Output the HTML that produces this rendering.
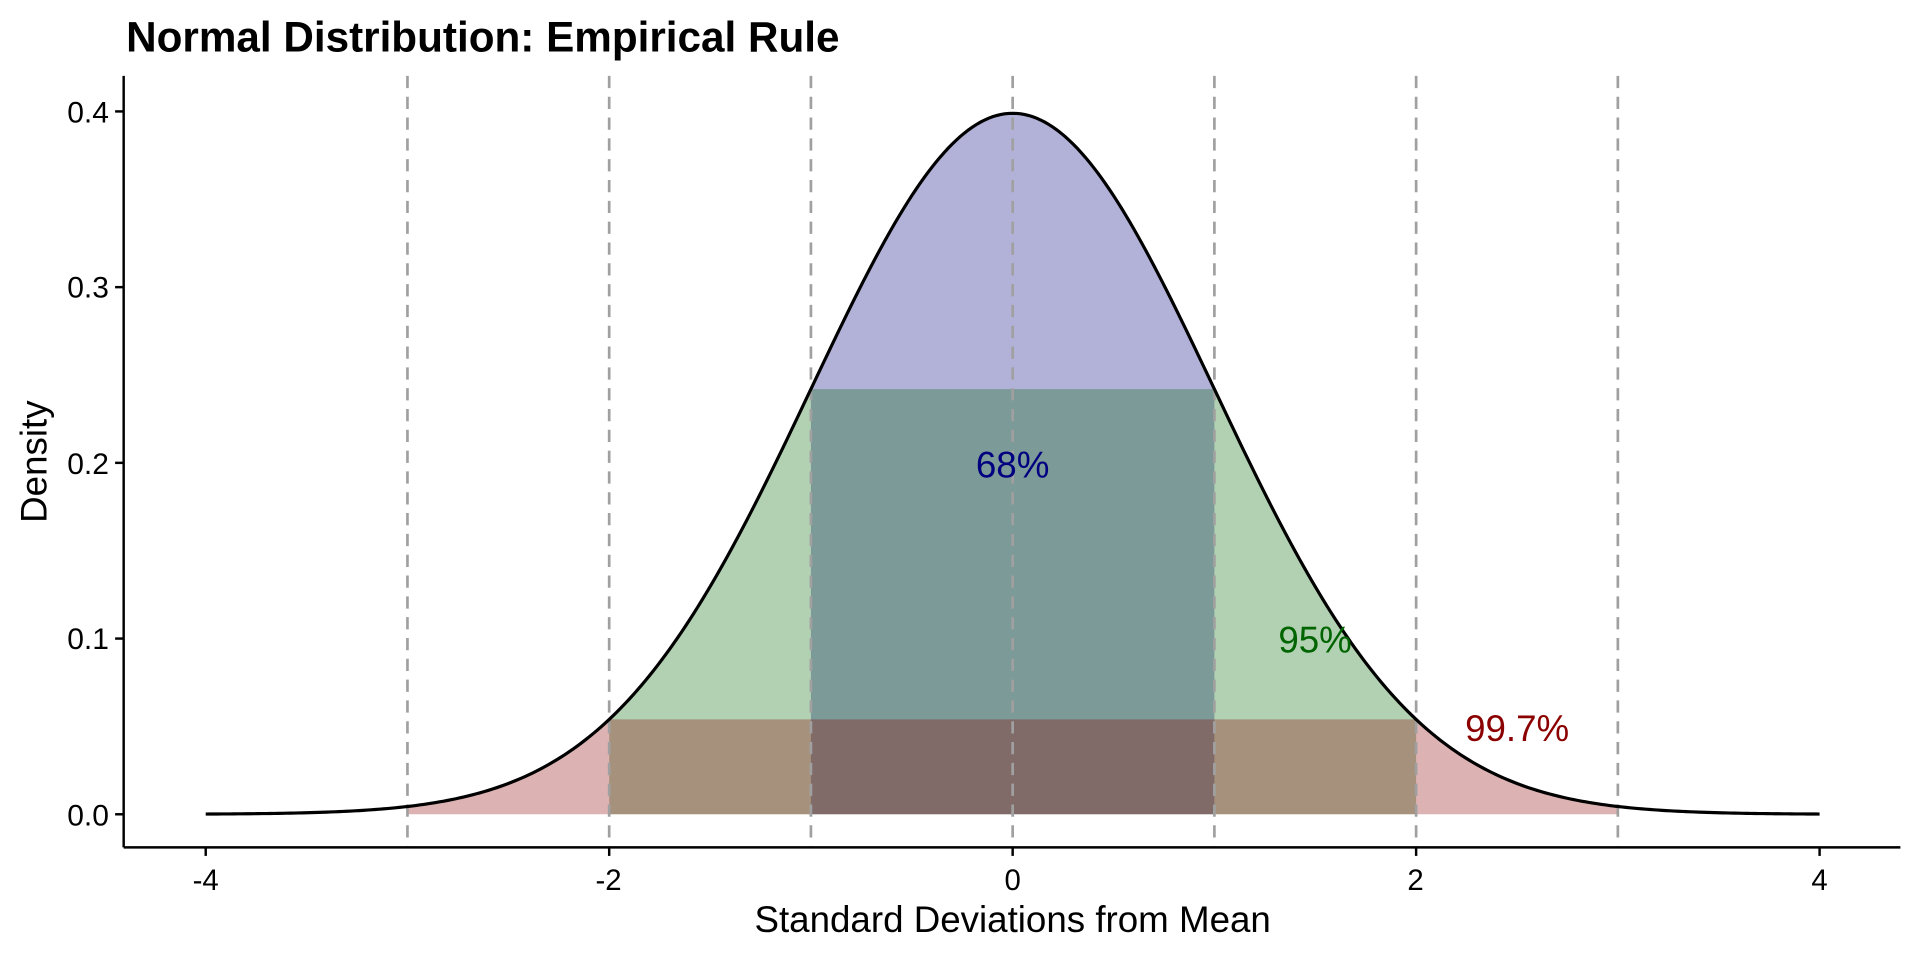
<!DOCTYPE html>
<html><head><meta charset="utf-8"><style>html,body{margin:0;padding:0;background:#fff}svg{display:block}</style></head>
<body>
<svg id="s" width="1920" height="960" viewBox="0 0 1568 784" xmlns="http://www.w3.org/2000/svg" font-family="Liberation Sans, sans-serif">
<rect width="1568" height="784" fill="#fff"/>
<g id="fills"></g>
<g id="dash" stroke="#a0a0a0" stroke-width="2.2" stroke-dasharray="10,7"></g>
<path id="curve" fill="none" stroke="#000" stroke-width="2.6"/>
<line x1="101" y1="62" x2="101" y2="692" stroke="#000" stroke-width="2"/>
<line x1="101" y1="692" x2="1552" y2="692" stroke="#000" stroke-width="2"/>
<g id="ticks" stroke="#000" stroke-width="2"></g>
<g font-size="24.5" fill="#000" text-anchor="end">
<text x="89" y="674">0.0</text><text x="89" y="530">0.1</text><text x="89" y="387">0.2</text><text x="89" y="243">0.3</text><text x="89" y="100">0.4</text>
</g>
<g font-size="24" fill="#000" text-anchor="middle">
<text x="168" y="727">-4</text><text x="497" y="727">-2</text><text x="827" y="727">0</text><text x="1156" y="727">2</text><text x="1486" y="727">4</text>
</g>
<text x="827" y="761" font-size="30" text-anchor="middle">Standard Deviations from Mean</text>
<text transform="translate(38,377) rotate(-90)" font-size="30" text-anchor="middle">Density</text>
<text x="103" y="42" font-size="34.5" font-weight="bold">Normal Distribution: Empirical Rule</text>
<text x="827" y="390" font-size="30" text-anchor="middle" fill="#000080">68%</text>
<text x="1074" y="533" font-size="30" text-anchor="middle" fill="#006400">95%</text>
<text x="1239" y="605" font-size="30" text-anchor="middle" fill="#8b0000">99.7%</text>
</svg>
<script>
var X=function(v){return 827+v*164.75},Y=function(d){return 665-d*1435};
function f(x){return Math.exp(-x*x/2)/Math.sqrt(2*Math.PI)}
function area(a,b){var p='M'+X(a)+','+Y(0);for(var i=0;i<=100;i++){var x=a+(b-a)*i/100;p+='L'+X(x).toFixed(2)+','+Y(f(x)).toFixed(2)}return p+'L'+X(b)+','+Y(0)+'Z'}
function rect(a,b,h){return 'M'+X(a)+','+Y(0)+'L'+X(a)+','+Y(h)+'L'+X(b)+','+Y(h)+'L'+X(b)+','+Y(0)+'Z'}
var g=document.getElementById('fills'),ns='http://www.w3.org/2000/svg';
function add(d,c){var e=document.createElementNS(ns,'path');e.setAttribute('d',d);e.setAttribute('fill',c);e.setAttribute('fill-opacity','0.3');g.appendChild(e)}
add(area(-1,1),'#000080');
add(area(-2,-1)+area(1,2)+rect(-1,1,f(1)),'#006400');
add(area(-3,-2)+area(2,3)+rect(-2,2,f(2)),'#8b0000');
var c='';for(var i=0;i<=400;i++){var x=-4+8*i/400;c+=(i?'L':'M')+X(x).toFixed(2)+','+Y(f(x)).toFixed(2)}
document.getElementById('curve').setAttribute('d',c);
var dg=document.getElementById('dash');
for(var k=-3;k<=3;k++){var l=document.createElementNS(ns,'line');l.setAttribute('x1',X(k));l.setAttribute('x2',X(k));l.setAttribute('y1',62);l.setAttribute('y2',692);dg.appendChild(l)}
var tg=document.getElementById('ticks');
[-4,-2,0,2,4].forEach(function(k){var l=document.createElementNS(ns,'line');l.setAttribute('x1',X(k));l.setAttribute('x2',X(k));l.setAttribute('y1',692);l.setAttribute('y2',699);tg.appendChild(l)});
[0,0.1,0.2,0.3,0.4].forEach(function(d){var l=document.createElementNS(ns,'line');l.setAttribute('x1',94);l.setAttribute('x2',101);l.setAttribute('y1',Y(d));l.setAttribute('y2',Y(d));tg.appendChild(l)});
</script>
</body></html>
